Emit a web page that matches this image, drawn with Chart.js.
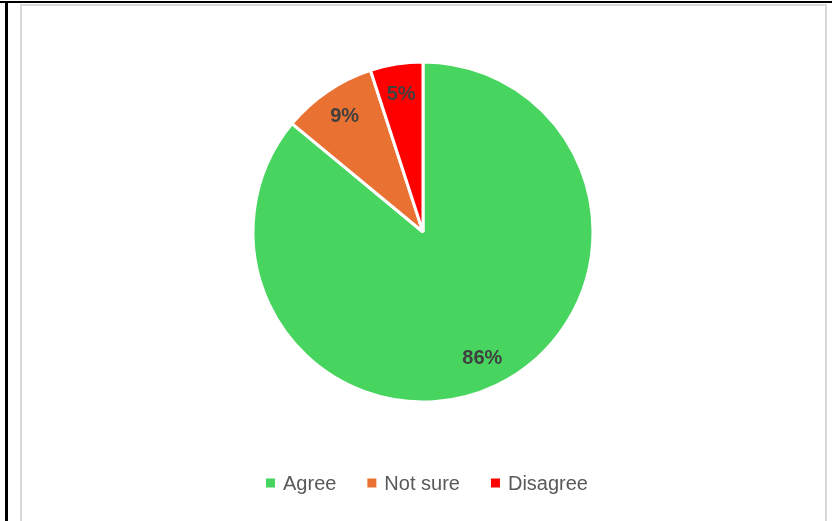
<!DOCTYPE html>
<html>
<head>
<meta charset="utf-8">
<script src="https://cdn.jsdelivr.net/npm/chart.js@4/dist/chart.umd.min.js"></script>
<style>
  html, body { margin: 0; padding: 0; background: #fff; overflow: hidden; }
  body { width: 832px; height: 521px; position: relative; }
  .rule-top { position: absolute; left: 0; top: 1px; width: 832px; height: 2px; background: #000; }
  .rule-left { position: absolute; left: 5px; top: 1px; width: 3px; height: 520px; background: #000; }
  .frame { position: absolute; left: 20px; top: 4px; width: 803px; height: 540px; border: 2px solid #d9d9d9; }
  #wrap { position: absolute; left: 0; top: 0; width: 832px; height: 521px; }
</style>
</head>
<body>
<div class="rule-top"></div>
<div class="rule-left"></div>
<div class="frame"></div>
<div id="wrap"><canvas id="pieChart"></canvas></div>
<script>
const labels = ["Agree", "Not sure", "Disagree"];
const shares = [86, 9, 5];
const colors = ["#47d45f", "#e97132", "#ff0000"];

// percentage text inside each slice
const sliceLabels = {
  id: "sliceLabels",
  afterDatasetsDraw(chart) {
    const ctx = chart.ctx;
    const meta = chart.getDatasetMeta(0);
    ctx.save();
    ctx.font = "bold 20px 'Liberation Sans', Arial, sans-serif";
    ctx.fillStyle = "#404040";
    ctx.textAlign = "center";
    ctx.textBaseline = "middle";
    meta.data.forEach((arc, i) => {
      const p = arc.getProps(["x", "y", "startAngle", "endAngle", "outerRadius"], true);
      const mid = (p.startAngle + p.endAngle) / 2;
      const r = p.outerRadius * 0.82;
      ctx.fillText(shares[i] + "%", p.x + Math.cos(mid) * r, p.y + Math.sin(mid) * r);
    });
    ctx.restore();
  }
};

// legend row under the pie: small square, short gap, then the name
const bottomLegend = {
  id: "bottomLegend",
  afterDraw(chart) {
    const ctx = chart.ctx;
    const box = 9, gap = 8, spacing = 31;
    ctx.save();
    ctx.font = "20px 'Liberation Sans', Arial, sans-serif";
    ctx.textBaseline = "middle";
    const widths = labels.map((l) => ctx.measureText(l).width);
    const total = widths.reduce((a, w) => a + box + gap + w, 0) + spacing * (labels.length - 1);
    let x = 427 - total / 2;
    const y = 483;
    labels.forEach((l, i) => {
      ctx.fillStyle = colors[i];
      ctx.fillRect(x, y - box / 2, box, box);
      ctx.fillStyle = "#595959";
      ctx.fillText(l, x + box + gap, y + 1);
      x += box + gap + widths[i] + spacing;
    });
    ctx.restore();
  }
};

const ctxPie = document.getElementById("pieChart").getContext("2d");

const pieChart = new Chart(ctxPie, {
  type: "pie",
  data: {
    labels: labels,
    datasets: [
      {
        data: shares,
        backgroundColor: colors,
        borderColor: "#ffffff",
        borderWidth: 3,
        radius: 170,
      },
    ],
  },
  options: {
    responsive: true,
    maintainAspectRatio: false,
    animation: false,
    layout: {
      padding: { top: 15, left: 14, right: 0, bottom: 72 }
    },
    plugins: {
      legend: { display: false },
      tooltip: { enabled: false }
    }
  },
  plugins: [sliceLabels, bottomLegend]
});
</script>
</body>
</html>
